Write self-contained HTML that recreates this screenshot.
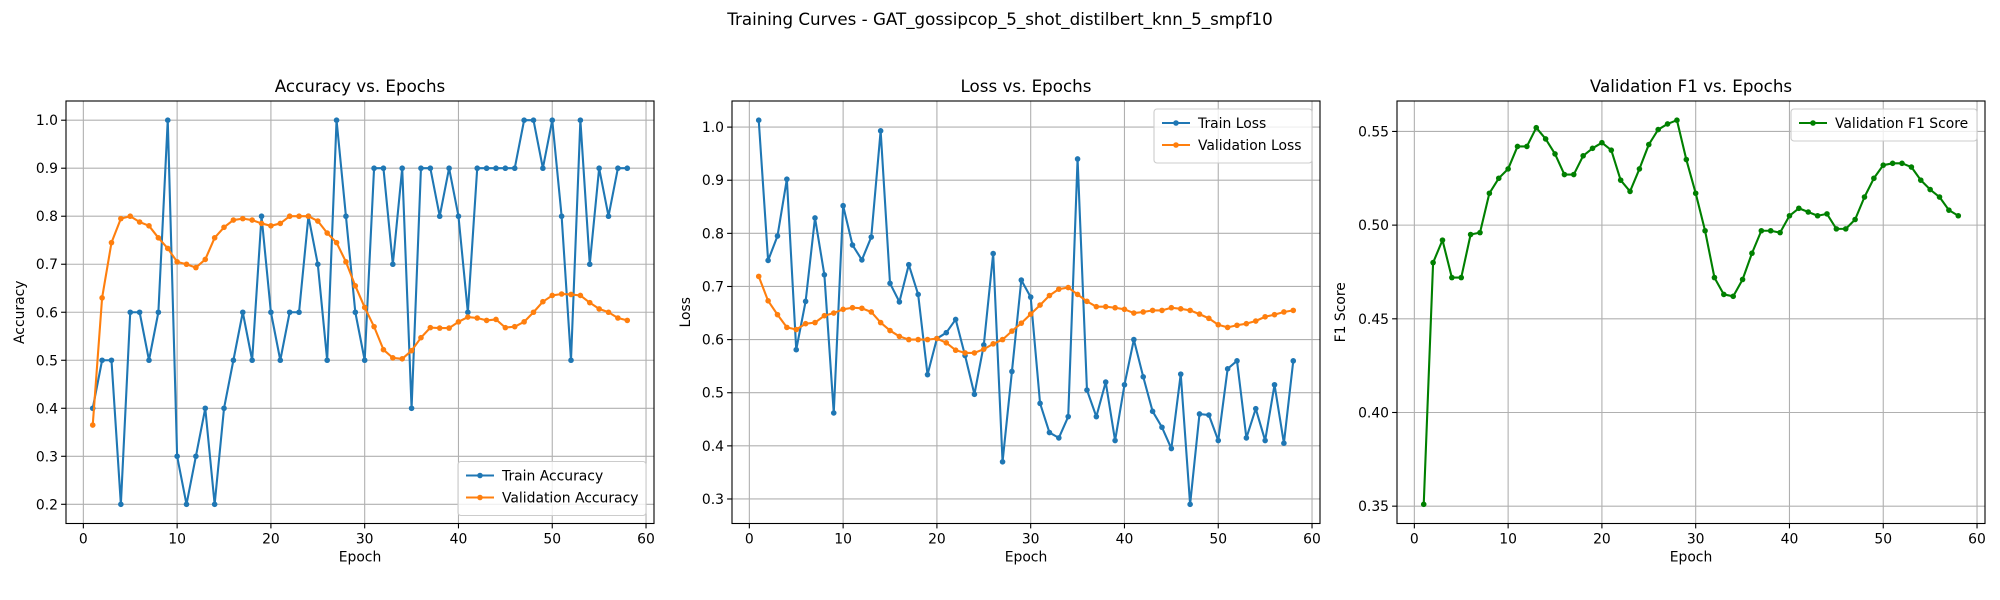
<!DOCTYPE html>
<html><head><meta charset="utf-8"><style>
body{margin:0;background:#fff;}
svg{display:block;font-family:"DejaVu Sans","Liberation Sans",sans-serif;}
</style></head><body>
<svg id="fig" width="2000" height="600" xmlns="http://www.w3.org/2000/svg">
<text x="1000" y="25" text-anchor="middle" font-size="16.7">Training Curves - GAT_gossipcop_5_shot_distilbert_knn_5_smpf10</text>
</svg>
<script>
const epochs = Array.from({length:58},(_,i)=>i+1);
const trainAcc = [0.4,0.5,0.5,0.2,0.6,0.6,0.5,0.6,1.0,0.3,0.2,0.3,0.4,0.2,0.4,0.5,0.6,0.5,0.8,0.6,0.5,0.6,0.6,0.8,0.7,0.5,1.0,0.8,0.6,0.5,0.9,0.9,0.7,0.9,0.4,0.9,0.9,0.8,0.9,0.8,0.6,0.9,0.9,0.9,0.9,0.9,1.0,1.0,0.9,1.0,0.8,0.5,1.0,0.7,0.9,0.8,0.9,0.9];
const valAcc = [0.365,0.63,0.745,0.795,0.80,0.788,0.78,0.755,0.733,0.705,0.70,0.693,0.71,0.755,0.777,0.792,0.795,0.792,0.785,0.78,0.785,0.80,0.80,0.80,0.79,0.765,0.745,0.705,0.655,0.61,0.57,0.522,0.505,0.503,0.52,0.547,0.568,0.567,0.567,0.58,0.59,0.588,0.583,0.585,0.568,0.57,0.58,0.6,0.622,0.635,0.638,0.637,0.635,0.62,0.607,0.6,0.588,0.583];
const trainLoss = [1.013,0.749,0.795,0.902,0.581,0.672,0.829,0.722,0.462,0.852,0.778,0.75,0.793,0.993,0.706,0.671,0.741,0.685,0.534,0.602,0.613,0.638,0.57,0.497,0.59,0.762,0.37,0.54,0.712,0.68,0.48,0.425,0.415,0.455,0.94,0.505,0.455,0.52,0.41,0.515,0.60,0.53,0.465,0.435,0.395,0.535,0.29,0.46,0.458,0.41,0.545,0.56,0.415,0.47,0.41,0.515,0.405,0.56];
const valLoss = [0.719,0.673,0.647,0.623,0.619,0.63,0.632,0.645,0.65,0.657,0.66,0.659,0.652,0.632,0.617,0.606,0.6,0.6,0.6,0.602,0.594,0.58,0.575,0.575,0.582,0.592,0.6,0.616,0.631,0.648,0.665,0.683,0.695,0.698,0.685,0.672,0.662,0.662,0.66,0.657,0.65,0.652,0.655,0.655,0.66,0.658,0.655,0.648,0.64,0.628,0.623,0.627,0.63,0.635,0.643,0.647,0.652,0.655];
const valF1 = [0.351,0.48,0.492,0.472,0.472,0.495,0.496,0.517,0.525,0.53,0.542,0.542,0.552,0.546,0.538,0.527,0.527,0.537,0.541,0.544,0.54,0.524,0.518,0.53,0.543,0.551,0.554,0.556,0.535,0.517,0.497,0.472,0.463,0.462,0.471,0.485,0.497,0.497,0.496,0.505,0.509,0.507,0.505,0.506,0.498,0.498,0.503,0.515,0.525,0.532,0.533,0.533,0.531,0.524,0.519,0.515,0.508,0.505];
const xTicks = [0,10,20,30,40,50,60];
const accTicks = [0.2,0.3,0.4,0.5,0.6,0.7,0.8,0.9,1.0];
const lossTicks = [0.3,0.4,0.5,0.6,0.7,0.8,0.9,1.0];
const f1Ticks = [0.35,0.40,0.45,0.50,0.55];

const svg=document.getElementById('fig');
const NS='http://www.w3.org/2000/svg';
function el(tag,attrs,parent){const e=document.createElementNS(NS,tag);for(const k in attrs)e.setAttribute(k,attrs[k]);(parent||svg).appendChild(e);return e;}
function ext(a){let lo=Math.min(...a),hi=Math.max(...a);const m=(hi-lo)*0.05;return [lo-m,hi+m];}

function panel(cfg){
  const L=cfg.left,T=101,W=588,H=422.5,B=T+H;
  const xlo=1-57*0.05,xhi=58+57*0.05;
  const all=[].concat(...cfg.series.map(s=>s.data));
  const [ylo,yhi]=ext(all);
  const X=v=>L+(v-xlo)/(xhi-xlo)*W;
  const Y=v=>B-(v-ylo)/(yhi-ylo)*H;
  const g=el('g',{});
  
  
  xTicks.forEach(t=>{
    const gl=el('line',{x1:X(t),x2:X(t),y1:T,y2:B,stroke:'#b0b0b0','stroke-width':1.1},g);
    
    
    el('line',{x1:X(t),x2:X(t),y1:B,y2:B+4.9,stroke:'#000','stroke-width':1.1},g);
    const tx=el('text',{x:X(t),y:B+20,'text-anchor':'middle','font-size':13.9},g);
    tx.textContent=t;
    
    
  });
  cfg.ticks.forEach(t=>{
    const gl=el('line',{x1:L,x2:L+W,y1:Y(t),y2:Y(t),stroke:'#b0b0b0','stroke-width':1.1},g);
    
    
    el('line',{x1:L-4.9,x2:L,y1:Y(t),y2:Y(t),stroke:'#000','stroke-width':1.1},g);
    const tx=el('text',{x:L-8,y:Y(t)+5,'text-anchor':'end','font-size':13.9},g);
    tx.textContent=t.toFixed(cfg.dec);
    
    
  });
  cfg.series.forEach(s=>{
    const pts=s.data.map((v,i)=>X(epochs[i])+','+Y(v)).join(' ');
    const pl=el('polyline',{points:pts,fill:'none',stroke:s.color,'stroke-width':2.1,'stroke-linejoin':'round'},g);
    
    
    s.data.forEach((v,i)=>{
      const c=el('circle',{cx:X(epochs[i]),cy:Y(v),r:2.8,fill:s.color},g);
      
      
    });
  });
  const fr=el('rect',{x:L,y:T,width:W,height:H,fill:'none',stroke:'#000','stroke-width':1.1},g);
  
  
  const ti=el('text',{x:L+W/2,y:T-9,'text-anchor':'middle','font-size':16.7},g);
  ti.textContent=cfg.title;
  
  
  const xl=el('text',{x:L+W/2,y:B+38,'text-anchor':'middle','font-size':13.9},g);
  xl.textContent='Epoch';
  
  
  const yl=el('text',{x:0,y:0,'text-anchor':'middle','font-size':13.9,transform:`translate(${cfg.ylx},${T+H/2}) rotate(-90)`},g);
  yl.textContent=cfg.ylabel;
  
  
  // legend
  const lg=el('g',{},g);
  
  
  const lw=cfg.legW,lh=10+cfg.series.length*22;
  const lx=L+W-lw-8, ly=cfg.legBottom? B-lh-8 : T+8;
  el('rect',{x:lx,y:ly,width:lw,height:lh,rx:3,fill:'#fff','fill-opacity':0.8,stroke:'#ccc','stroke-width':1.1},lg);
  cfg.series.forEach((s,i)=>{
    const cy=ly+14+i*22;
    const en=el('g',{},lg);
    
    
    el('line',{x1:lx+8,x2:lx+36,y1:cy,y2:cy,stroke:s.color,'stroke-width':2.1},en);
    el('circle',{cx:lx+22,cy:cy,r:2.8,fill:s.color},en);
    const t=el('text',{x:lx+44,y:cy+5,'font-size':13.9},en);
    t.textContent=s.label;
  });
}
panel({name:'accuracy-panel',left:66,title:'Accuracy vs. Epochs',ylabel:'Accuracy',ylx:24,ticks:accTicks,dec:1,legBottom:true,legW:188,
  series:[{key:'train-accuracy',label:'Train Accuracy',data:trainAcc,color:'#1f77b4'},{key:'validation-accuracy',label:'Validation Accuracy',data:valAcc,color:'#ff7f0e'}]});
panel({name:'loss-panel',left:732,title:'Loss vs. Epochs',ylabel:'Loss',ylx:690,ticks:lossTicks,dec:1,legBottom:false,legW:158,
  series:[{key:'train-loss',label:'Train Loss',data:trainLoss,color:'#1f77b4'},{key:'validation-loss',label:'Validation Loss',data:valLoss,color:'#ff7f0e'}]});
panel({name:'f1-panel',left:1397,title:'Validation F1 vs. Epochs',ylabel:'F1 Score',ylx:1345,ticks:f1Ticks,dec:2,legBottom:false,legW:186,
  series:[{key:'validation-f1',label:'Validation F1 Score',data:valF1,color:'#008000'}]});
</script>
</body></html>
